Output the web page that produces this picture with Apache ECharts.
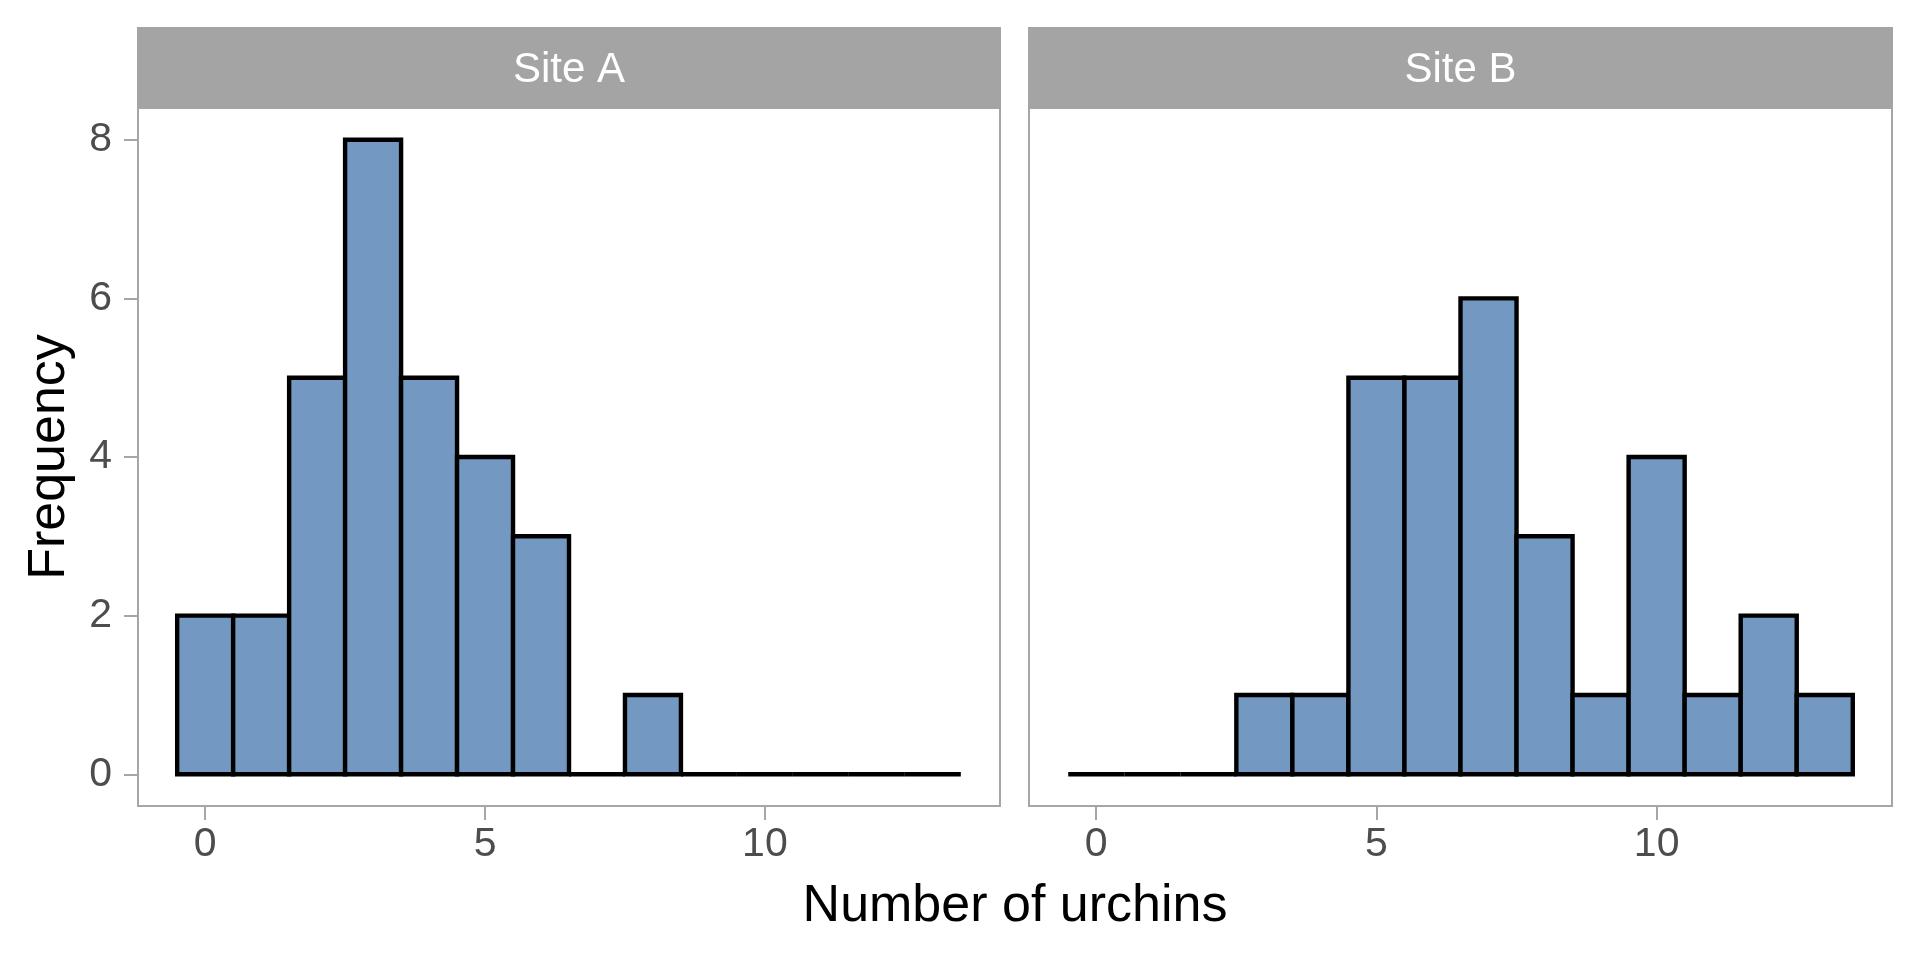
<!DOCTYPE html>
<html>
<head>
<meta charset="utf-8">
<script src="https://cdn.jsdelivr.net/npm/echarts@6/dist/echarts.min.js"></script>
<style>
html,body{margin:0;padding:0;background:#fff;}
#chart{width:1920px;height:960px;}
</style>
</head>
<body>
<div id="chart"></div>
<script>
// ---- data ----
const binCenters = [0, 1, 2, 3, 4, 5, 6, 7, 8, 9, 10, 11, 12, 13];
const siteA = [2, 2, 5, 8, 5, 4, 3, 0, 1, 0, 0, 0, 0, 0];
const siteB = [0, 0, 0, 1, 1, 5, 5, 6, 3, 1, 4, 1, 2, 1];
const panelNames = ['Site A', 'Site B'];
const xTicks = [0, 5, 10];
const yTicks = [0, 2, 4, 6, 8];
const xTitle = 'Number of urchins';
const yTitle = 'Frequency';

const FONT = '"Liberation Sans", Arial, Helvetica, sans-serif';
const FILL = '#7399C2';
const GRAY = '#A6A6A6';

const panels = [
  {left: 138, width: 862},
  {left: 1029, width: 863}
];
const TOP = 108, HEIGHT = 698;

function renderBar(params, api) {
  const x = api.value(0), y = api.value(1);
  const p0 = api.coord([x - 0.5, 0]);
  const p1 = api.coord([x + 0.5, y]);
  if (y === 0) {
    return {
      type: 'line',
      shape: {x1: p0[0], y1: p0[1], x2: p1[0], y2: p0[1]},
      style: {stroke: '#000', lineWidth: 4.4}
    };
  }
  return {
    type: 'rect',
    shape: {x: p0[0], y: p1[1], width: p1[0] - p0[0], height: p0[1] - p1[1]},
    style: {fill: FILL, stroke: '#000', lineWidth: 4.4, lineJoin: 'miter'}
  };
}

const seriesData = [siteA, siteB];

const option = {
  animation: false,
  backgroundColor: '#fff',
  grid: panels.map(p => ({
    left: p.left, top: TOP, width: p.width, height: HEIGHT,
    show: true, borderColor: GRAY, borderWidth: 2, backgroundColor: 'transparent'
  })),
  xAxis: panels.map((p, i) => ({
    type: 'value', gridIndex: i, min: -1.2, max: 14.2,
    axisLine: {show: false, onZero: false},
    splitLine: {show: false},
    axisTick: {show: true, length: 14, lineStyle: {color: GRAY, width: 2}, customValues: xTicks},
    axisLabel: {show: true, color: '#4D4D4D', fontSize: 41, fontFamily: FONT, margin: 18, customValues: xTicks}
  })),
  yAxis: panels.map((p, i) => ({
    type: 'value', gridIndex: i, min: -0.4, max: 8.4,
    axisLine: {show: false, onZero: false},
    splitLine: {show: false},
    axisTick: {show: i === 0, length: 14, lineStyle: {color: GRAY, width: 2}, customValues: yTicks},
    axisLabel: {show: i === 0, color: '#4D4D4D', fontSize: 41, fontFamily: FONT, margin: 26, customValues: yTicks}
  })),
  series: seriesData.map((vals, i) => ({
    type: 'custom',
    xAxisIndex: i, yAxisIndex: i,
    renderItem: renderBar,
    clip: false,
    data: binCenters.map((c, k) => [c, vals[k]])
  })),
  graphic: [
    ...panels.map((p, i) => ({
      type: 'group',
      children: [
        {type: 'rect', shape: {x: p.left - 1, y: 27, width: p.width + 2, height: TOP - 27},
         style: {fill: '#A4A4A4'}},
        {type: 'text', x: p.left + p.width / 2, y: 70,
         style: {text: panelNames[i], fill: '#fff', font: '42px ' + FONT, align: 'center', verticalAlign: 'middle'}}
      ]
    })),
    {type: 'text', x: 1015, y: 907,
     style: {text: xTitle, fill: '#000', font: '52px ' + FONT, align: 'center', verticalAlign: 'middle'}},
    {type: 'text', x: 50, y: 457, rotation: Math.PI / 2,
     style: {text: yTitle, fill: '#000', font: '52px ' + FONT, align: 'center', verticalAlign: 'middle'}}
  ]
};

const chart = echarts.init(document.getElementById('chart'), null, {renderer: 'canvas'});
chart.setOption(option);
</script>
</body>
</html>
